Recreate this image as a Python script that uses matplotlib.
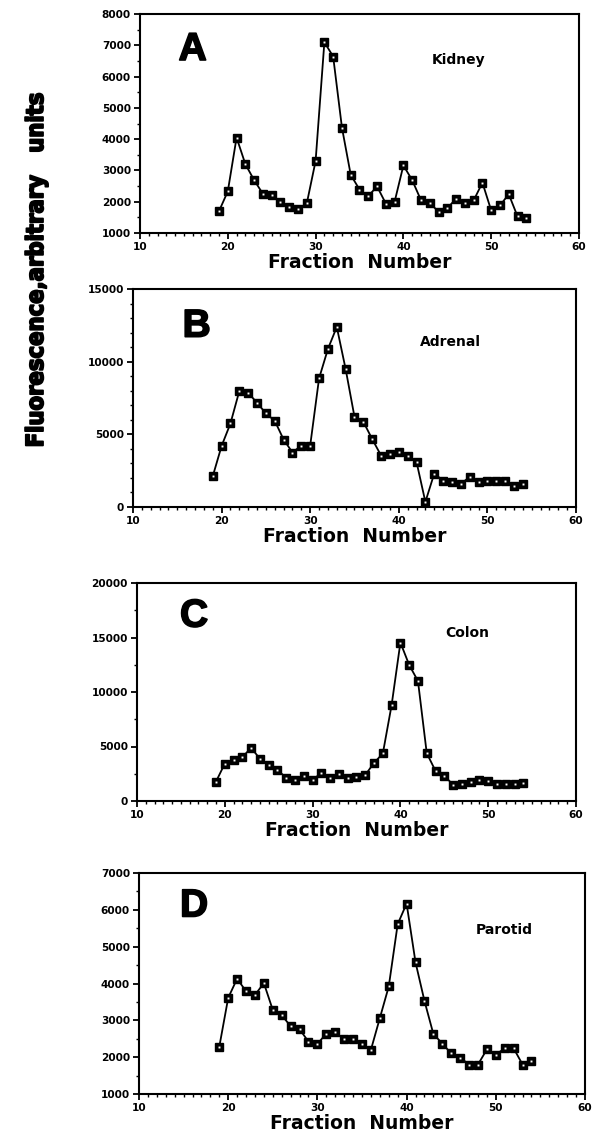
import matplotlib
matplotlib.use("Agg")
import matplotlib.pyplot as plt
from matplotlib.ticker import MultipleLocator
from matplotlib import font_manager as fm
import matplotlib.patheffects as pe

fractions = list(range(19, 55))

kidney = [1700, 2330, 4050, 3200, 2690, 2250, 2200, 1980, 1830, 1770, 1950, 3300,
          7100, 6640, 4370, 2860, 2390, 2180, 2490, 1940, 2000, 3160, 2690, 2050,
          1960, 1680, 1790, 2100, 1950, 2040, 2610, 1720, 1880, 2240, 1530, 1480]

adrenal = [2110, 4200, 5750, 7980, 7860, 7170, 6440, 5930, 4640, 3750, 4230, 4230,
           8850, 10870, 12390, 9490, 6200, 5860, 4670, 3540, 3660, 3770, 3490, 3100,
           350, 2300, 1820, 1700, 1590, 2070, 1700, 1820, 1820, 1820, 1470, 1610]

colon = [1780, 3430, 3740, 4020, 4880, 3870, 3310, 2850, 2120, 1930, 2300, 1900,
         2610, 2090, 2450, 2120, 2240, 2390, 3500, 4360, 8800, 14540, 12480, 11010,
         4390, 2760, 2300, 1500, 1530, 1750, 1900, 1840, 1600, 1600, 1600, 1690]

parotid = [2280, 3610, 4130, 3790, 3690, 4010, 3280, 3140, 2840, 2760, 2420, 2360,
           2640, 2680, 2480, 2480, 2370, 2200, 3060, 3920, 5610, 6170, 4575, 3530,
           2630, 2370, 2100, 1990, 1800, 1800, 2210, 2070, 2240, 2240, 1800, 1890]

panel_letters = ["A", "B", "C", "D"]
tissue_names = ["Kidney", "Adrenal", "Colon", "Parotid"]
series = [kidney, adrenal, colon, parotid]
ylims = [(1000, 8000), (0, 15000), (0, 20000), (1000, 7000)]
ymajor = [1000, 5000, 5000, 1000]
yminor = [500, 1000, 2500, 500]
x_ticks = [10, 20, 30, 40, 50, 60]
xlabel = "Fraction  Number"
ylabel = "Fluorescence,arbitrary   units"

W, H = 597, 1147
# axes boxes in pixels: left, right, top, bottom
boxes = [(140, 579, 14, 233), (133, 576, 289, 507), (137, 576, 583, 801), (139, 585, 873, 1094)]
letter_pos = [(14.4, 6530), (15.6, 11720), (14.9, 16000), (14.6, 5820)]
name_pos = [(43.2, 6530), (42.4, 11380), (45.1, 15400), (47.8, 5460)]

FONT = "Liberation Sans"
WIDE = "DejaVu Sans"


def condensed_bold_font():
    best = None
    for f in fm.fontManager.ttflist:
        n = f.name.lower()
        fn = f.fname.lower()
        if not ("narrow" in n or "condensed" in n or "condensed" in fn or "narrow" in fn):
            continue
        if "italic" in fn or "oblique" in fn:
            continue
        score = 0
        if "bold" in fn or str(f.weight) in ("bold", "700"):
            score += 10
        if "semibold" in fn or "extrabold" in fn or "black" in fn:
            score -= 5
        if "liberation" in fn or "arial" in fn or "helvet" in fn:
            score += 3
        if best is None or score > best[0]:
            best = (score, f.fname)
    return best[1] if best else None


fig = plt.figure(figsize=(W / 100, H / 100), dpi=100)
fig.patch.set_facecolor("white")

thick = [pe.withStroke(linewidth=1.2, foreground="black")]

for i in range(4):
    l, r, t, b = boxes[i]
    ax = fig.add_axes([l / W, 1 - b / H, (r - l) / W, (b - t) / H])
    ax.plot(fractions, series[i], color="black", lw=1.3, marker="s", ms=5.6,
            mfc="black", mec="black", zorder=3)
    ax.plot(fractions, series[i], ls="none", marker="s", ms=1.4,
            mfc="white", mec="white", mew=0, zorder=4)
    ax.set_xlim(10, 60)
    ax.set_ylim(*ylims[i])
    ax.set_xticks(x_ticks)
    ax.xaxis.set_minor_locator(MultipleLocator(1))
    ax.yaxis.set_major_locator(MultipleLocator(ymajor[i]))
    ax.yaxis.set_minor_locator(MultipleLocator(yminor[i]))
    for s in ax.spines.values():
        s.set_linewidth(1.5)
    ax.tick_params(which="major", direction="out", length=4, width=1.3, pad=2.5)
    ax.tick_params(which="minor", direction="out", length=2.5, width=1.0)
    for lab in ax.get_xticklabels() + ax.get_yticklabels():
        lab.set_fontfamily(WIDE)
        lab.set_fontweight("bold")
        lab.set_fontsize(7.6)
    ax.set_xlabel(xlabel, fontfamily=WIDE, fontweight="bold", fontsize=13.5, labelpad=1)
    lx, ly = letter_pos[i]
    ax.text(lx, ly, panel_letters[i], fontfamily=FONT, fontweight="bold", fontsize=28,
            ha="left", va="baseline", path_effects=thick)
    nx, ny = name_pos[i]
    ax.text(nx, ny, tissue_names[i], fontfamily=WIDE, fontweight="bold", fontsize=10,
            ha="left", va="center")

cpath = condensed_bold_font()
if cpath:
    yprop = fm.FontProperties(fname=cpath, size=23)
    target = 355.0
else:
    yprop = fm.FontProperties(family=FONT, weight="bold", size=23)
    target = 372.0
ytxt = fig.text(36 / W, 1 - 270 / H, ylabel, rotation=90, ha="center", va="center",
                fontproperties=yprop,
                path_effects=[pe.withStroke(linewidth=1.3, foreground="black")])
renderer = fig.canvas.get_renderer()
ext = ytxt.get_window_extent(renderer)
yprop.set_size(23 * target / ext.height)
ytxt.set_fontproperties(yprop)

fig.savefig("out.png", dpi=100, facecolor="white")
